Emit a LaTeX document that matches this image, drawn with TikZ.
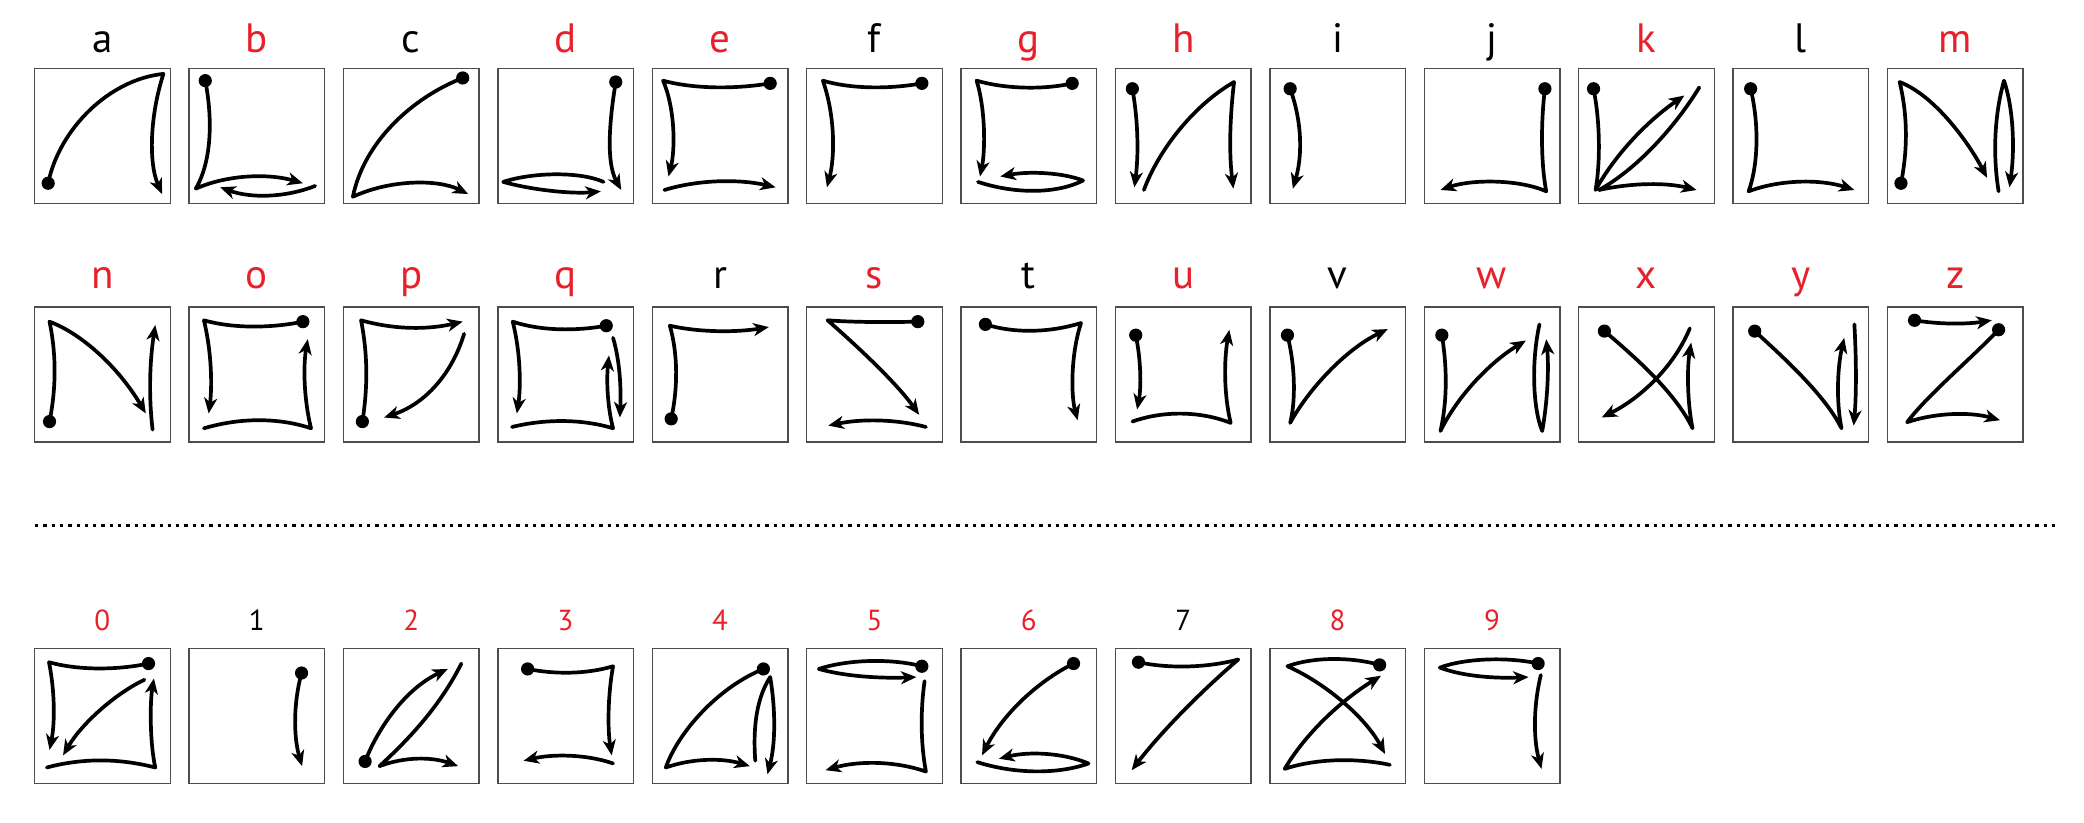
\documentclass[tikz,border=0pt]{standalone}
\usepackage{fontspec}
\setmainfont{PT Sans}
\usetikzlibrary{arrows.meta}
\definecolor{lred}{HTML}{E8202A}
\definecolor{boxgray}{HTML}{4D4D4D}
\tikzset{
  boxst/.style={draw=boxgray, line width=1.4pt},
  st/.style={line width=3.7pt, line cap=round, line join=round},
  ar/.style={st, -{Stealth[length=15.5pt,width=13pt,inset=4.5pt]}},
  lab/.style={anchor=base, inner sep=0pt},
}
\newcommand\dt[1]{\fill #1 circle[radius=6.6pt];}
\newcommand\cell[7]{%
  \pgfmathsetmacro\cx{34.6+154.4*#1}%
  \node[lab, text=#5, font=\fontsize{#6}{#6}\selectfont] (lab#4) at (\cx+67.8,#3) {#4};%
  \begin{scope}[shift={(\cx,#2)}, x=1.356pt, y=-1.35pt]
    \draw[boxst] (0,0) rectangle (100,100);
    #7
  \end{scope}}
\begin{document}
\begin{tikzpicture}[x=1pt,y=-1pt]
\useasboundingbox (0,0) rectangle (2084,822);
% ---------- row 1 ----------
\def\rt{68.5}\def\rb{52.5}\def\fs{41}
\cell{0}{\rt}{\rb}{a}{black}{\fs}{%
  \dt{(10,85)}
  \draw[ar] (10,85) .. controls (18,45) and (55,8) .. (95,4) .. controls (85,35) and (84,70) .. (94,93);}
\cell{1}{\rt}{\rb}{b}{lred}{\fs}{%
  \dt{(12,9)}
  \draw[ar] (12,9) .. controls (18,40) and (16,70) .. (5,89) .. controls (30,78) and (60,78) .. (84,85);
  \draw[ar] (93,87) .. controls (70,96) and (45,96) .. (23,88);}
\cell{2}{\rt}{\rb}{c}{black}{\fs}{%
  \dt{(88,7)}
  \draw[ar] (88,7) .. controls (50,22) and (15,55) .. (7,95) .. controls (35,82) and (70,82) .. (92,93);}
\cell{3}{\rt}{\rb}{d}{lred}{\fs}{%
  \dt{(87,10)}
  \draw[ar] (87,10) .. controls (82,40) and (80,70) .. (91,90);
  \draw[ar] (78,84) .. controls (60,76) and (25,77) .. (4,84) .. controls (25,90) and (55,93) .. (76,91);}
\cell{4}{\rt}{\rb}{e}{lred}{\fs}{%
  \dt{(87,11)}
  \draw[ar] (87,11) .. controls (60,15.5) and (30,15) .. (8,9) .. controls (17,30) and (17,60) .. (12,80);
  \draw[ar] (9,90) .. controls (35,82) and (65,82) .. (91,88);}
\cell{5}{\rt}{\rb}{f}{black}{\fs}{%
  \dt{(85,11)}
  \draw[ar] (85,11) .. controls (60,15.5) and (32,15) .. (12,9) .. controls (21,35) and (21,65) .. (15,88);}
\cell{6}{\rt}{\rb}{g}{lred}{\fs}{%
  \dt{(82,11)}
  \draw[ar] (82,11) .. controls (60,16) and (32,15) .. (11.5,9) .. controls (18,30) and (18,60) .. (14,80);
  \draw[ar] (12.5,84) .. controls (40,93) and (70,93) .. (90,83) .. controls (75,77) and (50,76) .. (29,80);}
\cell{7}{\rt}{\rb}{h}{lred}{\fs}{%
  \dt{(12.5,15)}
  \draw[ar] (12.5,15) .. controls (17,40) and (17,65) .. (14,88);
  \draw[ar] (21,90) .. controls (32,60) and (58,27) .. (87.5,10) .. controls (84,40) and (84,65) .. (87,89);}
\cell{8}{\rt}{\rb}{i}{black}{\fs}{%
  \dt{(15,15)}
  \draw[ar] (15,15) .. controls (24,40) and (24,65) .. (17,89);}
\cell{9}{\rt}{\rb}{j}{black}{\fs}{%
  \dt{(89,15)}
  \draw[ar] (89,15) .. controls (86,40) and (86,70) .. (90,91) .. controls (70,82) and (35,82) .. (12,90);}
\cell{10}{\rt}{\rb}{k}{lred}{\fs}{%
  \dt{(11,15)}
  \draw[ar] (11,15) .. controls (16,40) and (16,70) .. (12.5,90) .. controls (28,62) and (52,38) .. (78,20);
  \draw[ar] (89,14) .. controls (70,45) and (42,75) .. (15,90) .. controls (40,84.5) and (65,84.5) .. (87,90);}
\cell{11}{\rt}{\rb}{l}{black}{\fs}{%
  \dt{(13,15)}
  \draw[ar] (13,15) .. controls (19,40) and (19,70) .. (11.5,91) .. controls (35,82) and (65,82) .. (89.5,90);}
\cell{12}{\rt}{\rb}{m}{lred}{\fs}{%
  \dt{(10,85)}
  \draw[ar] (10,85) .. controls (15,60) and (15,35) .. (9,10) .. controls (35,20) and (60,55) .. (73.5,81);
  \draw[ar] (82,91) .. controls (77,60) and (80,30) .. (86,9) .. controls (93,30) and (94,60) .. (90,88);}
% ---------- row 2 ----------
\def\rt{306.8}\def\rb{288}
\cell{0}{\rt}{\rb}{n}{lred}{\fs}{%
  \dt{(11,85)}
  \draw[ar] (11,85) .. controls (16,60) and (16,35) .. (11,11) .. controls (35,20) and (62,45) .. (82,79);
  \draw[ar] (87,91) .. controls (84,65) and (85,40) .. (89,13.5);}
\cell{1}{\rt}{\rb}{o}{lred}{\fs}{%
  \dt{(84,11)}
  \draw[ar] (84,11) .. controls (60,16) and (32,16) .. (11,10) .. controls (17,35) and (17,60) .. (14.5,79);
  \draw[ar] (11,90) .. controls (38,82) and (66,82) .. (90,90) .. controls (85,70) and (84,45) .. (87.6,24);}
\cell{2}{\rt}{\rb}{p}{lred}{\fs}{%
  \dt{(14,85)}
  \draw[ar] (14,85) .. controls (18,60) and (18,35) .. (13,10) .. controls (38,17) and (62,17) .. (88,11);
  \draw[ar] (89,20) .. controls (80,50) and (60,72) .. (30,82);}
\cell{3}{\rt}{\rb}{q}{lred}{\fs}{%
  \dt{(80,14)}
  \draw[ar] (80,14) .. controls (58,18) and (32,18) .. (11,11) .. controls (17,35) and (17,60) .. (14,79);
  \draw[ar] (10.5,89) .. controls (35,83) and (62,83) .. (85,90) .. controls (81,75) and (80,55) .. (82,36);
  \draw[ar] (85,23) .. controls (90,40) and (91,60) .. (90,82);}
\cell{4}{\rt}{\rb}{r}{black}{\fs}{%
  \dt{(14,83)}
  \draw[ar] (14,83) .. controls (19,60) and (19,35) .. (13,14) .. controls (35,19) and (62,19) .. (86,15);}
\cell{5}{\rt}{\rb}{s}{lred}{\fs}{%
  \dt{(82,11)}
  \draw[ar] (82,11) .. controls (60,11.5) and (35,11.5) .. (15.5,10) .. controls (36,28) and (66,56) .. (83,80);
  \draw[ar] (88,89) .. controls (65,83) and (40,83) .. (16,88);}
\cell{6}{\rt}{\rb}{t}{black}{\fs}{%
  \dt{(18,13)}
  \draw[ar] (18,13) .. controls (40,20) and (66,19) .. (88.5,12) .. controls (81,35) and (81,65) .. (86,84);}
\cell{7}{\rt}{\rb}{u}{lred}{\fs}{%
  \dt{(15,21)}
  \draw[ar] (15,21) .. controls (19,40) and (19,60) .. (16,76);
  \draw[ar] (12.5,85) .. controls (35,77) and (62,77) .. (85,86) .. controls (80,65) and (80,40) .. (84,17);}
\cell{8}{\rt}{\rb}{v}{black}{\fs}{%
  \dt{(13,21)}
  \draw[ar] (13,21) .. controls (19,45) and (19,70) .. (15,86) .. controls (28,62) and (55,32) .. (87,16.5);}
\cell{9}{\rt}{\rb}{w}{lred}{\fs}{%
  \dt{(13,21)}
  \draw[ar] (13,21) .. controls (17,45) and (17,70) .. (12,92) .. controls (25,65) and (50,40) .. (75,25);
  \draw[ar] (85,13) .. controls (79,40) and (80,75) .. (87,92) .. controls (91,70) and (92,45) .. (90,24);}
\cell{10}{\rt}{\rb}{x}{lred}{\fs}{%
  \dt{(19,18)}
  \draw[ar] (19,18) .. controls (45,40) and (72,65) .. (84,90) .. controls (80,70) and (80,45) .. (83,26.5);
  \draw[ar] (82,16) .. controls (70,45) and (45,68) .. (17,82);}
\cell{11}{\rt}{\rb}{y}{lred}{\fs}{%
  \dt{(16,18)}
  \draw[ar] (16,18) .. controls (40,40) and (68,66) .. (80,90) .. controls (76,70) and (77,45) .. (82,23);
  \draw[ar] (89.5,13) .. controls (91,40) and (91,65) .. (89,88);}
\cell{12}{\rt}{\rb}{z}{lred}{\fs}{%
  \dt{(20,10)}
  \draw[ar] (20,10) .. controls (38,13) and (58,13) .. (77,10);
  \dt{(82,17)}
  \draw[ar] (82,17) .. controls (60,40) and (30,65) .. (14.5,85.5) .. controls (37,78) and (62,78) .. (83,84);}
% ---------- separator ----------
\coordinate (sepL) at (35,525.7);
\coordinate (sepR) at (2057,525.7);
\draw[line width=3.3pt, dash pattern=on 3.3pt off 5pt] (sepL) -- (sepR);
% ---------- row 3 ----------
\def\rt{648.7}\def\rb{630.7}\def\fs{29}
\cell{0}{\rt}{\rb}{0}{lred}{\fs}{%
  \dt{(84,11)}
  \draw[ar] (84,11) .. controls (60,16) and (32,16) .. (10.6,10) .. controls (15,32) and (15,55) .. (11,75);
  \draw[ar] (81,23) .. controls (60,33) and (35,55) .. (21,79);
  \draw[ar] (9,88) .. controls (35,81) and (62,81) .. (89,88) .. controls (85,70) and (85,40) .. (88,22);}
\cell{1}{\rt}{\rb}{1}{black}{\fs}{%
  \dt{(83,18)}
  \draw[ar] (83,18) .. controls (77,40) and (77,65) .. (83.4,87);}
\cell{2}{\rt}{\rb}{2}{lred}{\fs}{%
  \dt{(16,83.5)}
  \draw[ar] (16,83.5) .. controls (25,60) and (45,30) .. (77,15);
  \draw[ar] (87,11) .. controls (70,45) and (45,70) .. (26.6,87) .. controls (45,80) and (65,80) .. (84.6,87);}
\cell{3}{\rt}{\rb}{3}{lred}{\fs}{%
  \dt{(22,15)}
  \draw[ar] (22,15) .. controls (42,19) and (65,19) .. (85,13) .. controls (81,35) and (81,60) .. (84,79);
  \draw[ar] (85,85) .. controls (65,78) and (40,78) .. (19,83);}
\cell{4}{\rt}{\rb}{4}{lred}{\fs}{%
  \dt{(82,15)}
  \draw[ar] (82,15) .. controls (50,28) and (20,60) .. (10,88) .. controls (30,81) and (52,81) .. (72,87);
  \draw[ar] (76,83) .. controls (74,55) and (78,35) .. (87,21) .. controls (91,45) and (91,70) .. (85,93);}
\cell{5}{\rt}{\rb}{5}{lred}{\fs}{%
  \dt{(85,13)}
  \draw[ar] (85,13) .. controls (62,7) and (30,8) .. (9,15) .. controls (30,21) and (58,22) .. (81,21);
  \draw[ar] (87,24) .. controls (84,45) and (84,70) .. (88,91) .. controls (65,83) and (38,83) .. (14,90);}
\cell{6}{\rt}{\rb}{6}{lred}{\fs}{%
  \dt{(83,11)}
  \draw[ar] (83,11) .. controls (55,25) and (30,50) .. (15.5,79);
  \draw[ar] (12,84) .. controls (40,93) and (72,93) .. (94,85) .. controls (75,77) and (50,76) .. (28,81.5);}
\cell{7}{\rt}{\rb}{7}{black}{\fs}{%
  \dt{(17,10)}
  \draw[ar] (17,10) .. controls (40,15) and (68,14) .. (90.6,8) .. controls (65,30) and (35,60) .. (12,90);}
\cell{8}{\rt}{\rb}{8}{lred}{\fs}{%
  \dt{(81,12)}
  \draw[ar] (81,12) .. controls (60,6) and (32,6) .. (13,13) .. controls (40,25) and (70,50) .. (85,78);
  \draw[ar] (88.5,86) .. controls (65,81) and (35,81) .. (11,89) .. controls (25,65) and (50,40) .. (82,20);}
\cell{9}{\rt}{\rb}{9}{lred}{\fs}{%
  \dt{(84,11)}
  \draw[ar] (84,11) .. controls (62,6) and (30,7) .. (11.5,14) .. controls (30,21) and (55,22) .. (77,21);
  \draw[ar] (86,19.5) .. controls (81,40) and (80,65) .. (86.5,89);}
\end{tikzpicture}
\end{document}
